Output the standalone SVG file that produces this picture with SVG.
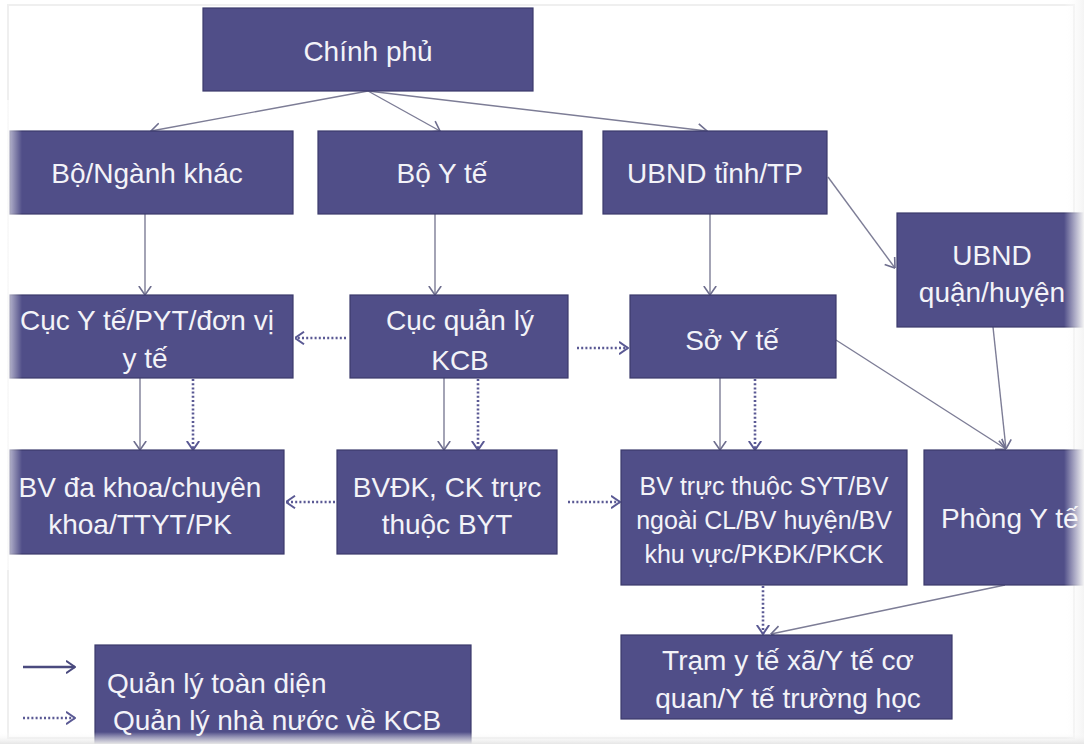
<svg xmlns="http://www.w3.org/2000/svg" width="1084" height="744" viewBox="0 0 1084 744">
<defs>
<style>
.box{fill:#504e88;stroke:#3b3a6c;stroke-width:1.2}
.t{font-family:"Liberation Sans",Arial,sans-serif;font-size:28px;fill:#f3f3f8;text-anchor:middle}
.t25{font-size:25px}
.solid{fill:none;stroke:#7d7d96;stroke-width:1.4}
.dot{fill:none;stroke:#5a5994;stroke-width:2.6;stroke-dasharray:2 2.2}
</style>
<marker id="ah" viewBox="0 0 10 14" refX="9.5" refY="7" markerWidth="10" markerHeight="14" markerUnits="userSpaceOnUse" orient="auto">
<path d="M0.5,0.8 L9.5,7 L0.5,13.2" fill="none" stroke="#6e6e8e" stroke-width="1.6"/>
</marker>
<marker id="ahk" viewBox="0 0 10 14" refX="9.5" refY="7" markerWidth="10" markerHeight="14" markerUnits="userSpaceOnUse" orient="auto">
<path d="M0.5,0.8 L9.5,7 L0.5,13.2" fill="none" stroke="#4a4a7e" stroke-width="2"/>
</marker>
<marker id="ahd" viewBox="0 0 10 14" refX="9.5" refY="7" markerWidth="10" markerHeight="14" markerUnits="userSpaceOnUse" orient="auto">
<path d="M0.5,0.8 L9.5,7 L0.5,13.2" fill="none" stroke="#5a5994" stroke-width="2"/>
</marker>
<linearGradient id="fadeL" x1="0" y1="0" x2="1" y2="0">
<stop offset="0" stop-color="#ffffff" stop-opacity="1"/>
<stop offset="1" stop-color="#ffffff" stop-opacity="0"/>
</linearGradient>
<linearGradient id="fadeR" x1="0" y1="0" x2="1" y2="0">
<stop offset="0" stop-color="#ffffff" stop-opacity="0"/>
<stop offset="1" stop-color="#f4f4f4" stop-opacity="1"/>
</linearGradient>
<linearGradient id="fadeB" x1="0" y1="0" x2="0" y2="1">
<stop offset="0" stop-color="#ffffff" stop-opacity="0"/>
<stop offset="1" stop-color="#e6e6e6" stop-opacity="1"/>
</linearGradient>
</defs>
<rect x="0" y="0" width="1084" height="744" fill="#ffffff"/>
<rect x="8" y="5" width="1066" height="733" fill="none" stroke="#efefef" stroke-width="2"/>

<g id="connectors">
<line class="solid" x1="368" y1="91" x2="151" y2="131" marker-end="url(#ah)"/>
<line class="solid" x1="368" y1="91" x2="440" y2="131" marker-end="url(#ah)"/>
<line class="solid" x1="368" y1="91" x2="707" y2="131" marker-end="url(#ah)"/>
<line class="solid" x1="145" y1="214" x2="145" y2="295" marker-end="url(#ah)"/>
<line class="solid" x1="435" y1="214" x2="435" y2="295" marker-end="url(#ah)"/>
<line class="solid" x1="710" y1="214" x2="710" y2="295" marker-end="url(#ah)"/>
<line class="solid" x1="828" y1="177" x2="895" y2="268" marker-end="url(#ah)"/>
<line class="solid" x1="140" y1="378" x2="140" y2="450" marker-end="url(#ah)"/>
<line class="solid" x1="444" y1="378" x2="444" y2="450" marker-end="url(#ah)"/>
<line class="solid" x1="720" y1="378" x2="720" y2="450" marker-end="url(#ah)"/>
<line class="solid" x1="836" y1="340" x2="1006" y2="449" marker-end="url(#ah)"/>
<line class="solid" x1="993" y1="327" x2="1006" y2="449" marker-end="url(#ah)"/>
<line class="solid" x1="1005" y1="585" x2="771" y2="634" marker-end="url(#ah)"/>
<line class="dot" x1="346" y1="338" x2="295" y2="338" marker-end="url(#ahd)"/>
<line class="dot" x1="577" y1="348" x2="628" y2="348" marker-end="url(#ahd)"/>
<line class="dot" x1="193" y1="379" x2="193" y2="450" marker-end="url(#ahd)"/>
<line class="dot" x1="478" y1="379" x2="478" y2="450" marker-end="url(#ahd)"/>
<line class="dot" x1="755" y1="379" x2="755" y2="450" marker-end="url(#ahd)"/>
<line class="dot" x1="335" y1="502" x2="286" y2="502" marker-end="url(#ahd)"/>
<line class="dot" x1="568" y1="502" x2="620" y2="502" marker-end="url(#ahd)"/>
<line class="dot" x1="763" y1="586" x2="763" y2="634" marker-end="url(#ahd)"/>
</g>

<g id="chinh-phu"><rect class="box" x="203" y="8" width="330" height="83"/><text class="t" x="368" y="61">Chính phủ</text></g>
<g id="bo-nganh-khac"><rect class="box" x="10" y="131" width="283" height="83"/><text class="t" x="147" y="183">Bộ/Ngành khác</text></g>
<g id="bo-y-te"><rect class="box" x="318" y="131" width="264" height="83"/><text class="t" x="442" y="183">Bộ Y tế</text></g>
<g id="ubnd-tinh"><rect class="box" x="603" y="131" width="224" height="83"/><text class="t" x="715" y="183">UBND tỉnh/TP</text></g>
<g id="ubnd-quan"><rect class="box" x="897" y="213" width="190" height="114"/><text class="t" x="992" y="265">UBND</text><text class="t" x="992" y="302">quận/huyện</text></g>
<g id="cuc-y-te"><rect class="box" x="10" y="295" width="283" height="83"/><text class="t" x="147" y="330">Cục Y tế/PYT/đơn vị</text><text class="t" x="145" y="368">y tế</text></g>
<g id="cuc-quan-ly"><rect class="box" x="350" y="295" width="218" height="83"/><text class="t" x="460" y="330">Cục quản lý</text><text class="t" x="460" y="370">KCB</text></g>
<g id="so-y-te"><rect class="box" x="630" y="295" width="206" height="83"/><text class="t" x="732" y="350">Sở Y tế</text></g>
<g id="bv-da-khoa"><rect class="box" x="10" y="450" width="274" height="104"/><text class="t" x="140" y="497">BV đa khoa/chuyên</text><text class="t" x="140" y="534">khoa/TTYT/PK</text></g>
<g id="bvdk-ck"><rect class="box" x="337" y="450" width="220" height="104"/><text class="t" x="447" y="497">BVĐK, CK trực</text><text class="t" x="447" y="534">thuộc BYT</text></g>
<g id="bv-truc-thuoc"><rect class="box" x="621" y="450" width="286" height="135"/><text class="t t25" x="764" y="495">BV trực thuộc SYT/BV</text><text class="t t25" x="764" y="529">ngoài CL/BV huyện/BV</text><text class="t t25" x="764" y="563">khu vực/PKĐK/PKCK</text></g>
<g id="phong-y-te"><rect class="box" x="924" y="450" width="165" height="135"/><text class="t" x="941" y="528" style="text-anchor:start">Phòng Y tế</text></g>
<g id="tram-y-te"><rect class="box" x="621" y="635" width="331" height="84"/><text class="t" x="788" y="670">Trạm y tế xã/Y tế cơ</text><text class="t" x="788" y="708">quan/Y tế trường học</text></g>

<g id="legend">
<line x1="23" y1="667" x2="75" y2="667" style="fill:none;stroke:#4a4a7e;stroke-width:2.6" marker-end="url(#ahk)"/>
<line class="dot" x1="23" y1="718" x2="75" y2="718" marker-end="url(#ahd)"/>
<rect class="box" x="95" y="645" width="376" height="110"/>
<text class="t" x="107" y="693" style="text-anchor:start">Quản lý toàn diện</text>
<text class="t" x="113" y="730" style="text-anchor:start">Quản lý nhà nước về KCB</text>
</g>

<rect x="0" y="100" width="22" height="470" fill="url(#fadeL)"/>
<rect x="1064" y="0" width="20" height="744" fill="url(#fadeR)"/>
<rect x="0" y="732" width="1084" height="12" fill="url(#fadeB)"/>
</svg>
